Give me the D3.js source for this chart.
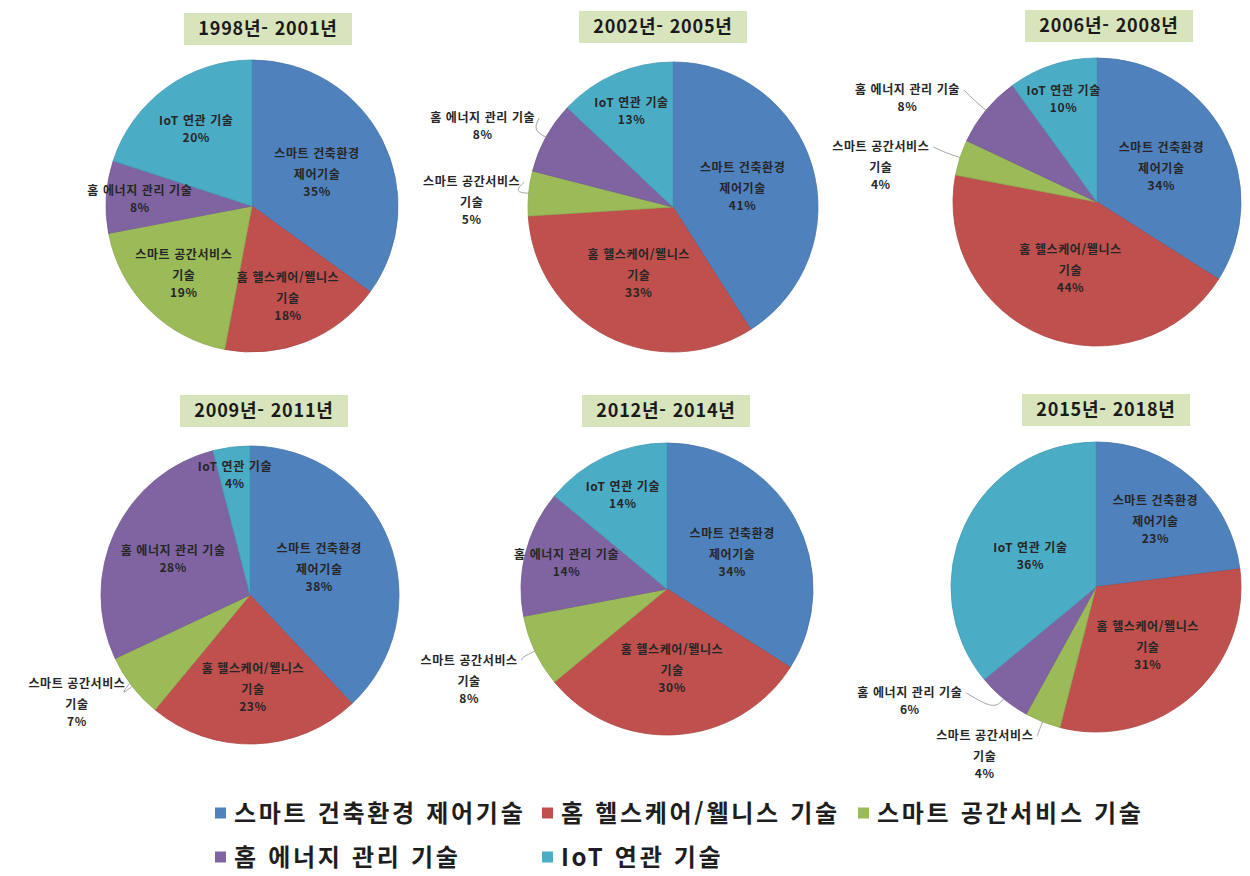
<!DOCTYPE html>
<html lang="ko">
<head>
<meta charset="utf-8">
<script src="https://cdn.jsdelivr.net/npm/d3@7"></script>
<style>
  html, body { margin: 0; padding: 0; background: #ffffff; }
  svg { display: block; }
  text { font-family: "Noto Sans CJK KR", "Noto Sans", sans-serif; }
</style>
</head>
<body>
<svg id="chart" width="1250" height="876"></svg>
<script>
// Technology categories (legend order = slice order, clockwise from 12 o'clock)
const categories = [
  "스마트 건축환경 제어기술",
  "홈 헬스케어/웰니스 기술",
  "스마트 공간서비스 기술",
  "홈 에너지 관리 기술",
  "IoT 연관 기술"
];
// How each category name wraps inside a data label
const labelLines = [
  ["스마트 건축환경", "제어기술"],
  ["홈 헬스케어/웰니스", "기술"],
  ["스마트 공간서비스", "기술"],
  ["홈 에너지 관리 기술"],
  ["IoT 연관 기술"]
];
const periods = [
  "1998년- 2001년", "2002년- 2005년", "2006년- 2008년",
  "2009년- 2011년", "2012년- 2014년", "2015년- 2018년"
];
// Share (%) of each category per period
const share1998 = [35, 18, 19, 8, 20];
const share2002 = [41, 33, 5, 8, 13];
const share2006 = [34, 44, 4, 8, 10];
const share2009 = [38, 23, 7, 28, 4];
const share2012 = [34, 30, 8, 14, 14];
const share2015 = [23, 31, 4, 6, 36];
const shares = [share1998, share2002, share2006, share2009, share2012, share2015];

const colors = ["#4f81bd", "#c0504d", "#9bbb59", "#8064a2", "#4bacc6"];

// Panel layout: pie centre, radius, title box centre, and the labels that sit outside
// the pie (category index plus a nudge of the label end away from the leader anchor)
const panels = [
  { cx: 252,  cy: 206, r: 146, tx: 268,  ty: 29,  outside: [] },
  { cx: 673,  cy: 207, r: 145, tx: 663,  ty: 27,  outside: [{ i: 2, dx: 6, dy: -10 }, { i: 3, dx: 2, dy: -12 }] },
  { cx: 1097, cy: 202, r: 144, tx: 1109, ty: 26,  outside: [{ i: 2, dx: -17, dy: -6 }, { i: 3, dx: -15, dy: -11 }] },
  { cx: 250,  cy: 595, r: 149, tx: 264,  ty: 411, outside: [{ i: 2, dx: 5, dy: -12 }] },
  { cx: 667,  cy: 589, r: 146, tx: 666,  ty: 411, outside: [{ i: 2, dx: -4, dy: 3 }] },
  { cx: 1096, cy: 587, r: 145, tx: 1106, ty: 410, outside: [{ i: 2, dx: -4, dy: 1 }, { i: 3, dx: -32, dy: -17 }] }
];

const svg = d3.select("#chart");
const pie = d3.pie().sort(null).value(d => d);
const labelFont = { size: 12, weight: 700, spacing: 0.6 };

function drawLabel(g, x, y, lines, pct) {
  const t = g.append("text")
    .attr("text-anchor", "middle")
    .attr("font-size", labelFont.size)
    .attr("font-weight", labelFont.weight)
    .attr("letter-spacing", labelFont.spacing)
    .attr("fill", "#262626");
  const all = lines.concat([pct]);
  // name lines 21px apart, percentage 17px below the last name line
  let acc = 0;
  all.forEach((s, i) => {
    if (i > 0) acc += (i === all.length - 1) ? 17 : 21;
    t.append("tspan").attr("x", x).attr("y", y + acc).attr("dy", "0.35em").text(s);
  });
}

function textWidth(g, s) {
  const t = g.append("text")
    .attr("font-size", labelFont.size).attr("font-weight", labelFont.weight)
    .attr("letter-spacing", labelFont.spacing).attr("visibility", "hidden").text(s);
  const w = t.node().getComputedTextLength();
  t.remove();
  return w;
}

panels.forEach((p, pi) => {
  const data = shares[pi];
  const arcs = pie(data);
  const arc = d3.arc().innerRadius(0).outerRadius(p.r);
  const g = svg.append("g");
  const pg = g.append("g").attr("transform", `translate(${p.cx},${p.cy})`);

  pg.selectAll("path")
    .data(arcs)
    .join("path")
    .attr("d", arc)
    .attr("fill", (d, i) => colors[i])
    .attr("stroke", (d, i) => d3.color(colors[i]).darker(0.3))
    .attr("stroke-width", 0.8);

  // title box
  const tw = 168, th = 32;
  g.append("rect")
    .attr("x", p.tx - tw / 2).attr("y", p.ty - th / 2)
    .attr("width", tw).attr("height", th)
    .attr("fill", "#d8e4bc");
  g.append("text")
    .attr("x", p.tx).attr("y", p.ty).attr("dy", "0.36em")
    .attr("text-anchor", "middle")
    .attr("font-size", 18).attr("font-weight", 700)
    .attr("letter-spacing", 0.8)
    .attr("fill", "#1a1a1a")
    .text(periods[pi]);

  arcs.forEach((a, i) => {
    const mid = (a.startAngle + a.endAngle) / 2;
    const frac = data[i] / d3.sum(data);
    const pct = data[i] + "%";
    const out = p.outside.find(o => o.i === i);
    if (out) {
      const ex = p.cx + p.r * Math.sin(mid), ey = p.cy - p.r * Math.cos(mid);
      const ax = p.cx + p.r * 1.1 * Math.sin(mid), ay = p.cy - p.r * 1.1 * Math.cos(mid);
      const lx = ax + out.dx, ly = ay + out.dy;
      g.append("path")
        .attr("d", d3.line().curve(d3.curveBasis)([[ex, ey], [ax, ay], [lx + 4, ly]]))
        .attr("fill", "none").attr("stroke", "#9a9a9a").attr("stroke-width", 0.9);
      // block centred on its first line, which ends at the leader
      const w = textWidth(g, labelLines[i][0]);
      drawLabel(g, lx - w / 2, ly, labelLines[i], pct);
    } else {
      const k = Math.max(0.5, Math.min(0.82, 0.85 - frac));
      const x = p.cx + p.r * k * Math.sin(mid), y = p.cy - p.r * k * Math.cos(mid);
      const height = labelLines[i].length === 2 ? 38 : 17;
      drawLabel(g, x, y - height / 2, labelLines[i], pct);
    }
  });
});

// legend
const legendPos = [
  { x: 215, y: 813 }, { x: 542, y: 813 }, { x: 858, y: 813 },
  { x: 215, y: 857 }, { x: 542, y: 857 }
];
const lg = svg.append("g");
categories.forEach((c, i) => {
  const pos = legendPos[i];
  lg.append("rect")
    .attr("x", pos.x).attr("y", pos.y - 5.5)
    .attr("width", 11).attr("height", 11)
    .attr("fill", colors[i]);
  lg.append("text")
    .attr("x", pos.x + 19).attr("y", pos.y).attr("dy", "0.36em")
    .attr("font-size", 24).attr("font-weight", 700)
    .attr("letter-spacing", 2.7)
    .attr("fill", "#1e1e1e")
    .text(c);
});
</script>
</body>
</html>
